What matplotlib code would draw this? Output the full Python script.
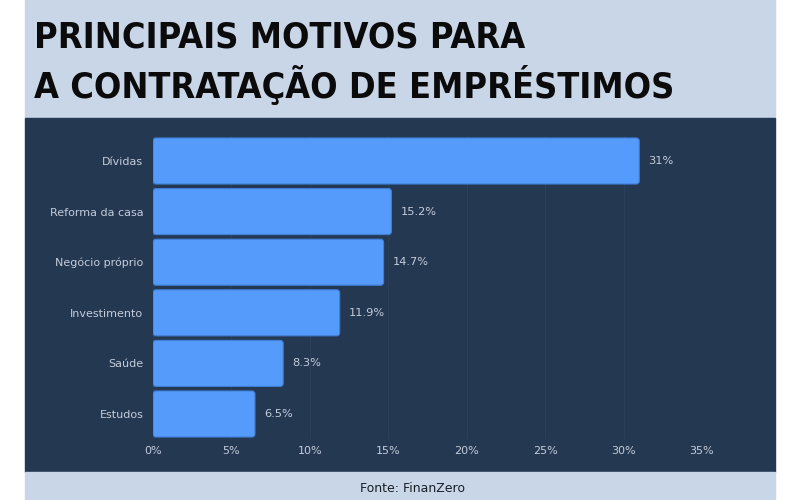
import matplotlib
matplotlib.use("Agg")
import matplotlib.pyplot as plt
from matplotlib.patches import Rectangle, FancyBboxPatch

categories = ["Dívidas", "Reforma da casa", "Negócio próprio", "Investimento", "Saúde", "Estudos"]
values = [31, 15.2, 14.7, 11.9, 8.3, 6.5]
value_labels = ["31%", "15.2%", "14.7%", "11.9%", "8.3%", "6.5%"]
xticks = [0, 5, 10, 15, 20, 25, 30, 35]
xtick_labels = ["0%", "5%", "10%", "15%", "20%", "25%", "30%", "35%"]

LIGHT = "#c9d6e8"
NAVY = "#253852"
BAR = "#559bfb"
TXT = "#c3cddb"

fig = plt.figure(figsize=(8, 5), dpi=100)
fig.patch.set_facecolor("white")
W, H = 800, 500
def fx(px): return px / W
def fy(py): return 1 - py / H

fig.add_artist(Rectangle((fx(25), fy(118)), fx(750), 118 / H, transform=fig.transFigure, color=LIGHT, zorder=0))
fig.add_artist(Rectangle((fx(25), fy(472)), fx(750), (472 - 118) / H, transform=fig.transFigure, color=NAVY, zorder=0))
fig.add_artist(Rectangle((fx(25), 0), fx(750), 28 / H, transform=fig.transFigure, color=LIGHT, zorder=0))

tfont = dict(family="DejaVu Sans", fontstretch="condensed", weight="bold", size=25.8, color="#0b0b0b")
fig.text(fx(34), fy(38), "PRINCIPAIS MOTIVOS PARA", ha="left", va="center", **tfont)
fig.text(fx(34), fy(85), "A CONTRATAÇÃO DE EMPRÉSTIMOS", ha="left", va="center", **tfont)
fig.text(fx(412), fy(488), "Fonte: FinanZero", ha="center", va="center", size=9, color="#1a1f28", family="DejaVu Sans")

ax = fig.add_axes([fx(153), fy(439.3), fx(702) - fx(153), (439.3 - 135.7) / H])
ax.set_facecolor("none")
ypos = list(range(len(categories)))
bars = ax.barh(ypos, values, height=0.91, color=BAR)
ax.set_xlim(0, 35)
ax.set_ylim(len(categories) - 0.5, -0.5)

# rounded bars
xu = 35 / 549.0
yu = 1 / 50.6
for b in bars:
    x0, y0, w, h = b.get_x(), b.get_y(), b.get_width(), b.get_height()
    b.set_visible(False)
    p = FancyBboxPatch((x0, y0), w, h, boxstyle="round,pad=0,rounding_size=%f" % (3 * xu),
                       mutation_aspect=yu / xu, facecolor=BAR, edgecolor="#3f7fd6", linewidth=0.8, zorder=3)
    ax.add_patch(p)

for y, v, lab in zip(ypos, values, value_labels):
    ax.annotate(lab, (v, y), xytext=(6.5, 0), textcoords="offset points", ha="left", va="center",
                color=TXT, fontsize=8.2, zorder=4)

ax.set_yticks(ypos)
ax.set_yticklabels(categories)
ax.set_xticks(xticks)
ax.set_xticklabels(xtick_labels)
ax.tick_params(axis="both", length=0, colors=TXT, labelsize=8)
ax.tick_params(axis="y", pad=7)
ax.tick_params(axis="x", pad=5)
for s in ax.spines.values():
    s.set_visible(False)
ax.grid(axis="x", color="#2c3f5a", linewidth=0.8, zorder=1)
ax.set_axisbelow(True)

fig.savefig("out.png", dpi=100, facecolor=fig.get_facecolor())
